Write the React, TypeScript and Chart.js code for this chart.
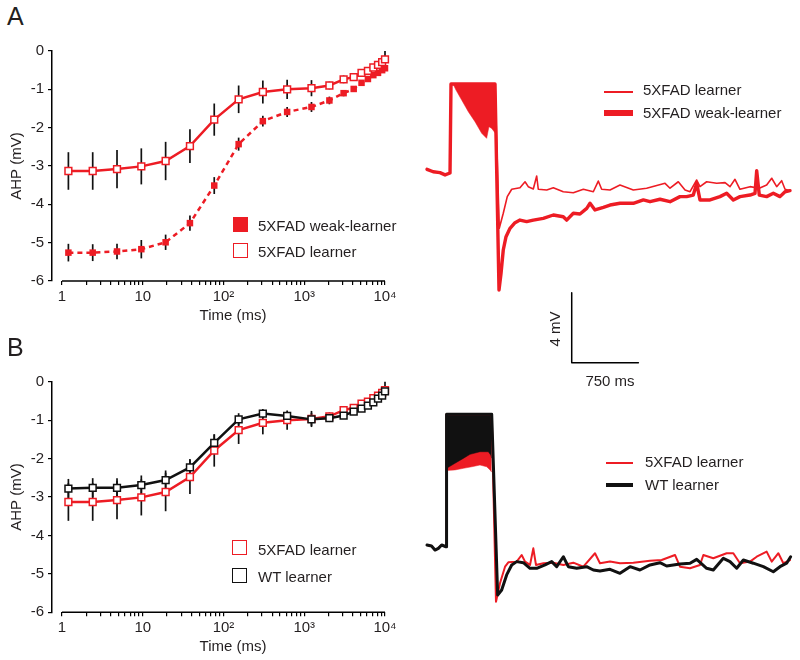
import React, { useEffect, useRef } from 'react';
import { Chart, registerables } from 'chart.js';

Chart.register(...registerables);

const FONT = '"Liberation Sans", Arial, Helvetica, sans-serif';
const RED = '#ED1C24';
const BLACK = '#111111';
const TEXT = '#231F20';

// ---------- AHP vs time (panels A and B, left) ----------
const timesMs = [1.2, 2.4, 4.8, 9.6, 19.2, 38.4, 76.8, 154, 307, 614, 1229, 2048, 3072, 4096, 5120, 6144, 7168, 8192, 9216, 10000];
const learnerAhp = [-3.13, -3.13, -3.08, -3.01, -2.87, -2.48, -1.79, -1.26, -1.07, -1.0, -0.97, -0.9, -0.74, -0.68, -0.57, -0.52, -0.43, -0.36, -0.29, -0.22];
const learnerErr = [0.49, 0.49, 0.5, 0.47, 0.5, 0.44, 0.42, 0.36, 0.3, 0.25, 0.21, 0.1, 0.1, 0.07, 0.06, 0.06, 0.06, 0.06, 0.06, 0.22];
const weakAhp = [-5.26, -5.26, -5.23, -5.17, -4.99, -4.49, -3.51, -2.43, -1.83, -1.59, -1.46, -1.29, -1.1, -0.99, -0.83, -0.73, -0.63, -0.57, -0.5, -0.45];
const weakErr = [0.23, 0.22, 0.2, 0.24, 0.2, 0.2, 0.22, 0.17, 0.14, 0.13, 0.13, 0.1, 0.08, 0.06, 0.06, 0.06, 0.06, 0.06, 0.06, 0.06];
const wtAhp = [-2.78, -2.76, -2.76, -2.69, -2.56, -2.23, -1.59, -0.98, -0.83, -0.89, -0.98, -0.95, -0.88, -0.78, -0.7, -0.62, -0.54, -0.44, -0.36, -0.25];
const wtErr = [0.25, 0.25, 0.25, 0.25, 0.25, 0.22, 0.22, 0.16, 0.12, 0.11, 0.17, 0.1, 0.06, 0.06, 0.06, 0.06, 0.06, 0.06, 0.06, 0.1];
const yTicks = [-6, -5, -4, -3, -2, -1, 0];
const decades = [1, 10, 100, 1000, 10000];
const decadeLabels = ['1', '10', '10²', '10³', '10⁴'];

// ---------- voltage traces (right), ms / mV ----------
const topLearnerMs = [0, 70, 146, 203, 259, 270, 765, 813, 858, 903, 953, 1046, 1103, 1139, 1196, 1234, 1252, 1347, 1421, 1533, 1646, 1759, 1871, 1927, 1965, 2059, 2171, 2321, 2471, 2678, 2734, 2827, 2903, 2959, 3034, 3071, 3146, 3259, 3353, 3409, 3465, 3521, 3634, 3738, 3821, 3878, 3934, 3990, 4028, 4084];
const topLearnerMv = [0.21, 0.07, 0.02, -0.11, 0, 5.09, 5.09, -3.16, -2.3, -1.35, -0.93, -0.84, -0.5, -0.78, -0.91, -0.17, -0.93, -0.97, -0.84, -1.07, -1.13, -0.93, -1.07, -0.46, -0.93, -0.97, -0.69, -0.97, -0.87, -0.59, -0.87, -0.5, -0.97, -1.07, -0.4, -0.78, -0.5, -0.59, -0.55, -0.78, -0.36, -0.93, -0.78, -0.87, -0.69, -0.3, -0.78, -0.44, -0.93, -1.01];
const topWeakMs = [0, 70, 146, 203, 259, 270, 765, 810, 833, 858, 889, 934, 990, 1046, 1121, 1196, 1308, 1421, 1533, 1571, 1646, 1721, 1797, 1834, 1890, 1984, 2059, 2171, 2321, 2434, 2509, 2621, 2734, 2846, 2921, 2996, 3034, 3071, 3184, 3296, 3371, 3446, 3521, 3634, 3690, 3709, 3738, 3821, 3896, 3971, 4028, 4084];
const topWeakMv = [0.21, 0.07, 0.02, -0.11, 0, 5.09, 5.09, -6.69, -5.73, -4.4, -3.64, -3.16, -2.84, -2.69, -2.78, -2.69, -2.59, -2.4, -2.5, -2.69, -2.3, -2.34, -2.02, -1.73, -2.11, -1.96, -1.83, -1.73, -1.73, -1.54, -1.64, -1.5, -1.64, -1.35, -1.35, -1.26, -0.59, -1.54, -1.54, -1.35, -1.16, -1.54, -1.35, -1.26, -1.16, 0.13, -1.26, -1.35, -1.16, -1.35, -1.07, -1.01];
const topSpikeTroughMs = [270, 293, 326, 390, 465, 540, 615, 671, 697, 728, 765];
const topSpikeTroughMv = [5.09, 5.09, 4.74, 4.17, 3.5, 2.93, 2.27, 1.98, 2.65, 2.55, 2.3];
const topClipMv = 5.09;

const botRedMs = [0, 51, 90, 128, 165, 214, 220, 728, 776, 821, 878, 915, 1009, 1065, 1103, 1159, 1196, 1226, 1309, 1421, 1534, 1646, 1759, 1890, 1946, 2059, 2171, 2321, 2509, 2640, 2790, 2846, 2959, 3071, 3109, 3221, 3371, 3446, 3521, 3634, 3709, 3821, 3878, 3953, 4009, 4084];
const botRedMv = [0.04, -0.02, -0.25, -0.15, 0.04, -0.06, 7.51, 7.51, -3.2, -2.15, -1.2, -0.95, -0.91, -0.53, -0.91, -1.1, -0.15, -1.1, -1.0, -0.97, -1.1, -0.97, -1.2, -0.43, -1.0, -0.9, -1.0, -0.97, -0.86, -0.82, -0.53, -1.2, -1.29, -1.1, -0.53, -0.72, -0.43, -0.43, -1.0, -0.91, -0.63, -0.34, -0.91, -0.43, -1.0, -0.82];
const botBlackMs = [0, 51, 90, 128, 165, 214, 220, 728, 795, 840, 896, 953, 1009, 1084, 1159, 1234, 1328, 1403, 1459, 1534, 1590, 1684, 1796, 1871, 1946, 2059, 2171, 2284, 2396, 2509, 2621, 2696, 2846, 2959, 3034, 3146, 3221, 3334, 3409, 3484, 3559, 3671, 3784, 3896, 3971, 4046, 4091];
const botBlackMv = [0.04, -0.02, -0.25, -0.15, 0.04, -0.06, 7.51, 7.51, -2.82, -2.53, -1.67, -1.1, -0.91, -0.97, -1.29, -1.29, -1.1, -0.91, -1.2, -0.63, -1.2, -1.29, -1.2, -1.39, -1.45, -1.35, -1.58, -1.2, -1.39, -1.1, -0.97, -1.16, -1.05, -1.0, -0.78, -1.29, -1.39, -0.72, -0.91, -1.29, -0.82, -1.0, -1.2, -1.49, -1.2, -1.0, -0.63];
const botRedTroughMs = [220, 315, 408, 503, 596, 672, 709, 728];
const botRedTroughMv = [4.3, 4.33, 4.42, 4.51, 4.61, 4.51, 4.33, 4.2];
const botBlackTroughMs = [220, 315, 408, 484, 596, 690, 717, 728];
const botBlackTroughMv = [4.42, 4.71, 4.99, 5.22, 5.37, 5.37, 5.18, 5.0];
const botClipMv = 7.51;

// scale bar: 750 ms x 4 mV
const scaleBarMs = [1628, 1628, 2378];
const scaleBarMv = [-6.84, -10.84, -10.84];

const pts = (xs: number[], ys: number[]) => xs.map((x, i) => ({ x, y: ys[i] }));

const errorBarPlugin = {
  id: 'errorBars',
  beforeDatasetsDraw(chart: any) {
    const { ctx, scales } = chart;
    const xs = scales.x;
    const ys = scales.y;
    ctx.save();
    ctx.strokeStyle = BLACK;
    ctx.lineWidth = 1.7;
    chart.data.datasets.forEach((ds: any) => {
      if (!ds.errorBars) return;
      ds.data.forEach((p: any, i: number) => {
        const e = ds.errorBars[i];
        const px = xs.getPixelForValue(p.x);
        ctx.beginPath();
        ctx.moveTo(px, ys.getPixelForValue(p.y - e));
        ctx.lineTo(px, ys.getPixelForValue(p.y + e));
        ctx.stroke();
      });
    });
    ctx.restore();
  },
};

const xAxisLinePlugin = {
  id: 'xAxisLine',
  afterDraw(chart: any) {
    const { ctx, chartArea } = chart;
    const xs = chart.scales.x;
    ctx.save();
    ctx.strokeStyle = '#000';
    ctx.lineWidth = 1.5;
    ctx.beginPath();
    ctx.moveTo(xs.getPixelForValue(decades[0]), chartArea.bottom);
    ctx.lineTo(xs.getPixelForValue(decades[decades.length - 1]), chartArea.bottom);
    ctx.stroke();
    ctx.restore();
  },
};

const xTickValues: number[] = [];
decades.forEach((d, i) => {
  if (i === decades.length - 1) { xTickValues.push(d); return; }
  for (let k = 1; k <= 9; k++) xTickValues.push(k * d);
});

// layout: x=1 sits 10px right of the y axis; 80.75 px per decade
const X_MIN = Math.pow(10, -10 / 80.75);

function ahpConfig(datasets: any[], padTop: number, xHeight: number) {
  return {
    type: 'line',
    data: { datasets },
    options: {
      animation: false,
      responsive: false,
      devicePixelRatio: 1,
      layout: { padding: { top: padTop, right: 15, left: 0, bottom: 0 } },
      plugins: { legend: { display: false }, tooltip: { enabled: false } },
      scales: {
        x: {
          type: 'logarithmic',
          bounds: 'data',
          min: X_MIN,
          max: 10000,
          afterBuildTicks: (s: any) => { s.ticks = xTickValues.map((v) => ({ value: v })); },
          afterFit: (s: any) => { s.height = xHeight; },
          border: { display: false },
          grid: { display: true, drawOnChartArea: false, drawTicks: true, tickLength: 4, color: '#000', lineWidth: 1.2 },
          ticks: {
            autoSkip: false, maxRotation: 0, minRotation: 0, padding: 3, color: TEXT,
            font: { family: FONT, size: 15 },
            callback: (v: any) => { const i = decades.indexOf(Number(v)); return i >= 0 ? decadeLabels[i] : ''; },
          },
        },
        y: {
          min: yTicks[0],
          max: yTicks[yTicks.length - 1],
          afterBuildTicks: (s: any) => { s.ticks = yTicks.map((v) => ({ value: v })); },
          afterFit: (s: any) => { s.width = 52; },
          border: { display: true, color: '#000', width: 1.5 },
          grid: { drawOnChartArea: false, drawTicks: true, tickLength: 4, color: '#000', lineWidth: 1.2 },
          ticks: { padding: 4, color: TEXT, font: { family: FONT, size: 15 } },
          title: { display: true, text: 'AHP (mV)', color: TEXT, font: { family: FONT, size: 15 }, padding: { top: 8, bottom: 0 } },
        },
      },
    },
    plugins: [errorBarPlugin, xAxisLinePlugin],
  };
}

const openSquares = (color: string) => ({
  borderColor: color, borderWidth: 2.5, tension: 0, clip: false,
  pointStyle: 'rect', pointRadius: 4.8, pointBackgroundColor: '#fff', pointBorderColor: color, pointBorderWidth: 1.5,
});

function panelA() {
  return [
    { label: '5XFAD learner', data: pts(timesMs, learnerAhp), errorBars: learnerErr, ...openSquares(RED) },
    {
      label: '5XFAD weak-learner', data: pts(timesMs, weakAhp), errorBars: weakErr,
      borderColor: RED, borderWidth: 2.5, borderDash: [5, 4], tension: 0, clip: false,
      pointStyle: 'rect', pointRadius: 4.6, pointBackgroundColor: RED, pointBorderColor: RED, pointBorderWidth: 0,
    },
  ];
}

function panelB() {
  return [
    { label: 'WT learner', data: pts(timesMs, wtAhp), errorBars: wtErr, ...openSquares(BLACK) },
    { label: '5XFAD learner', data: pts(timesMs, learnerAhp), errorBars: learnerErr, ...openSquares(RED) },
  ];
}

const line = (xs: number[], ys: number[], color: string, width: number) => ({
  data: pts(xs, ys), borderColor: color, borderWidth: width, pointRadius: 0, tension: 0,
  borderJoinStyle: 'round', borderCapStyle: 'round', fill: false, clip: false,
});
const block = (xs: number[], ys: number[], color: string, clip: number) => ({
  data: pts(xs, ys), borderColor: color, borderWidth: 0.5, pointRadius: 0, tension: 0,
  backgroundColor: color, fill: { value: clip },
});

function traceConfig(datasets: any[], xMin: number, xMax: number, yMin: number, yMax: number) {
  return {
    type: 'line',
    data: { datasets },
    options: {
      animation: false,
      responsive: false,
      devicePixelRatio: 1,
      layout: { padding: 0 },
      plugins: { legend: { display: false }, tooltip: { enabled: false } },
      scales: {
        x: { type: 'linear', min: xMin, max: xMax, display: false },
        y: { type: 'linear', min: yMin, max: yMax, display: false },
      },
    },
  };
}

// trace canvases: 11.25 ms per px, 17.5 px per mV
const MS_PER_PX = 11.25;
const PX_PER_MV = 17.5;
const TRACE_X0 = 427;

function topTraces() {
  const top = 70, h = 330, base = 173;
  return traceConfig(
    [
      line(topLearnerMs, topLearnerMv, RED, 1.6),
      line(topWeakMs, topWeakMv, RED, 3.4),
      block(topSpikeTroughMs, topSpikeTroughMv, RED, topClipMv),
      line(scaleBarMs, scaleBarMv, '#000', 1.5),
    ],
    (420 - TRACE_X0) * MS_PER_PX, (800 - TRACE_X0) * MS_PER_PX,
    (base - (top + h)) / PX_PER_MV, (base - top) / PX_PER_MV,
  );
}

function bottomTraces() {
  const top = 400, h = 220, base = 545.7;
  return traceConfig(
    [
      line(botBlackMs, botBlackMv, BLACK, 3),
      line(botRedMs, botRedMv, RED, 2),
      block(botBlackTroughMs, botBlackTroughMv, BLACK, botClipMv),
      block(botRedTroughMs, botRedTroughMv, RED, botClipMv),
    ],
    (420 - TRACE_X0) * MS_PER_PX, (800 - TRACE_X0) * MS_PER_PX,
    (base - (top + h)) / PX_PER_MV, (base - top) / PX_PER_MV,
  );
}

function ChartCanvas({ left, top, width, height, make }: { left: number; top: number; width: number; height: number; make: () => any }) {
  const ref = useRef<HTMLCanvasElement>(null);
  useEffect(() => {
    const chart = new Chart(ref.current as HTMLCanvasElement, make());
    return () => chart.destroy();
  }, []);
  return <canvas ref={ref} width={width} height={height} style={{ position: 'absolute', left, top, width, height }} />;
}

function Text({ x, y, children, size = 15, center = false, rotate = false }: any) {
  let transform = 'translateY(-50%)';
  if (center) transform = 'translate(-50%, -50%)';
  if (rotate) transform = 'translate(-50%, -50%) rotate(-90deg)';
  return (
    <div style={{ position: 'absolute', left: x, top: y, fontSize: size, lineHeight: 1, whiteSpace: 'nowrap', transform, color: TEXT, fontFamily: FONT }}>
      {children}
    </div>
  );
}

function Square({ x, y, color, filled }: { x: number; y: number; color: string; filled: boolean }) {
  return (
    <div style={{
      position: 'absolute', left: x, top: y, width: 15, height: 15, boxSizing: 'border-box',
      background: filled ? color : '#fff', border: filled ? 'none' : `1.7px solid ${color}`,
    }} />
  );
}

function Swatch({ x, y, w, h, color }: { x: number; y: number; w: number; h: number; color: string }) {
  return <div style={{ position: 'absolute', left: x, top: y - h / 2, width: w, height: h, background: color }} />;
}

export default function App() {
  return (
    <div style={{ position: 'absolute', left: 0, top: 0, width: 800, height: 660, background: '#fff', overflow: 'hidden' }}>
      <ChartCanvas left={0} top={30} width={400} height={300} make={() => ahpConfig(panelA(), 21, 49)} />
      <ChartCanvas left={0} top={360} width={400} height={300} make={() => ahpConfig(panelB(), 21.7, 47.7)} />
      <ChartCanvas left={420} top={70} width={380} height={330} make={topTraces} />
      <ChartCanvas left={420} top={400} width={380} height={220} make={bottomTraces} />

      <Text x={7} y={16} size={25}>A</Text>
      <Text x={7} y={347} size={25}>B</Text>

      <Text x={233} y={313.5} center>Time (ms)</Text>
      <Text x={233} y={645} center>Time (ms)</Text>

      <Square x={233} y={217} color={RED} filled />
      <Text x={258} y={224.5}>5XFAD weak-learner</Text>
      <Square x={233} y={243} color={RED} filled={false} />
      <Text x={258} y={250.5}>5XFAD learner</Text>

      <Square x={232} y={540} color={RED} filled={false} />
      <Text x={258} y={548.5}>5XFAD learner</Text>
      <Square x={232} y={568} color={BLACK} filled={false} />
      <Text x={258} y={576}>WT learner</Text>

      <Swatch x={604} y={91.7} w={29} h={2} color={RED} />
      <Text x={643} y={89}>5XFAD learner</Text>
      <Swatch x={604} y={113} w={29} h={5.5} color={RED} />
      <Text x={643} y={112}>5XFAD weak-learner</Text>

      <Swatch x={606} y={463.3} w={27} h={2} color={RED} />
      <Text x={645} y={461}>5XFAD learner</Text>
      <Swatch x={606} y={485} w={27} h={3.3} color={BLACK} />
      <Text x={645} y={484}>WT learner</Text>

      <Text x={554} y={329} rotate>4 mV</Text>
      <Text x={610} y={380} center>750 ms</Text>
    </div>
  );
}
